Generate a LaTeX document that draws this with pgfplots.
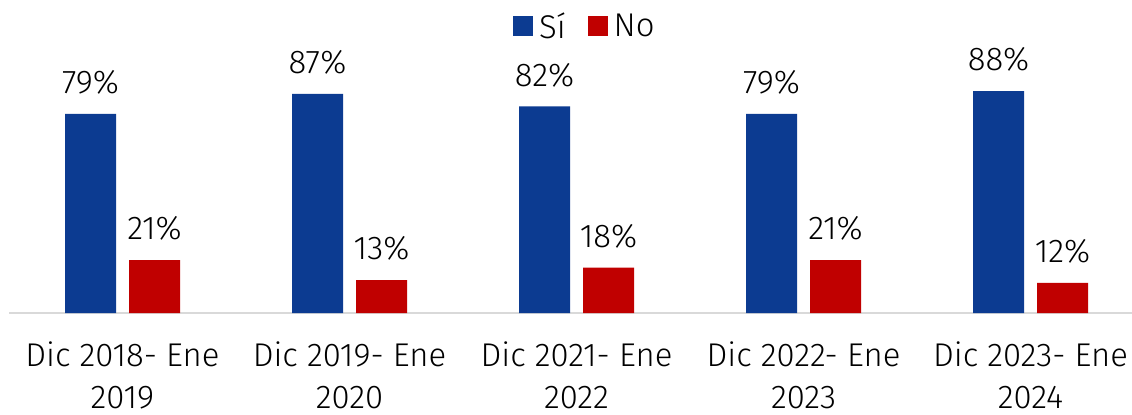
\documentclass[border=0pt]{standalone}
\usepackage{pgfplots}
\pgfplotsset{compat=1.18}
\usepackage{fontspec}
\setmainfont{Fira Sans}[UprightFont=* Light]
\definecolor{siblue}{RGB}{12,59,145}
\definecolor{nored}{RGB}{192,0,0}
\begin{document}
\begin{tikzpicture}
\begin{axis}[
  scale only axis,
  width=1123bp, height=252bp,
  xmin=-0.5, xmax=4.447,
  ymin=0, ymax=100,
  axis y line=none,
  axis x line*=bottom,
  x axis line style={draw=gray!30, line width=1.2pt, -},
  xtick={0,1,2,3,4},
  xticklabels={{Dic 2018- Ene\\2019},{Dic 2019- Ene\\2020},{Dic 2021- Ene\\2022},{Dic 2022- Ene\\2023},{Dic 2023- Ene\\2024}},
  xticklabel style={align=center, inner sep=0pt, font=\fontsize{33}{42}\selectfont, yshift=-29bp},
  major tick length=0pt,
  /pgf/number format/assume math mode=true,
  ybar, bar width=51bp,
  nodes near coords={\pgfmathprintnumber{\pgfplotspointmeta}\%},
  nodes near coords style={font=\fontsize{33}{38}\selectfont, text=black, yshift=16bp},
  legend columns=2,
  legend style={at={(0.511,1)}, anchor=south, xshift=-8bp, yshift=17bp, draw=none, fill=none, font=\fontsize{33}{38}\selectfont, column sep=0bp},
  legend image code/.code={\path (-20bp,0bp); \fill[#1] (0bp,-10bp) rectangle (20bp,10bp); \path (24bp,0bp);},
  clip=false,
]
\addplot[fill=siblue, draw=none, bar shift=-32bp] coordinates {(0,79) (1,87) (2,82) (3,79) (4,88)};
\addplot[fill=nored, draw=none, bar shift=32bp] coordinates {(0,21) (1,13) (2,18) (3,21) (4,12)};
\legend{Sí,No}
\coordinate (sw) at (rel axis cs:0,0);
\end{axis}
\pgfresetboundingbox
\useasboundingbox ([shift={(-9bp,-102bp)}]sw) rectangle ([shift={(1123bp,313bp)}]sw);
\end{tikzpicture}
\end{document}
